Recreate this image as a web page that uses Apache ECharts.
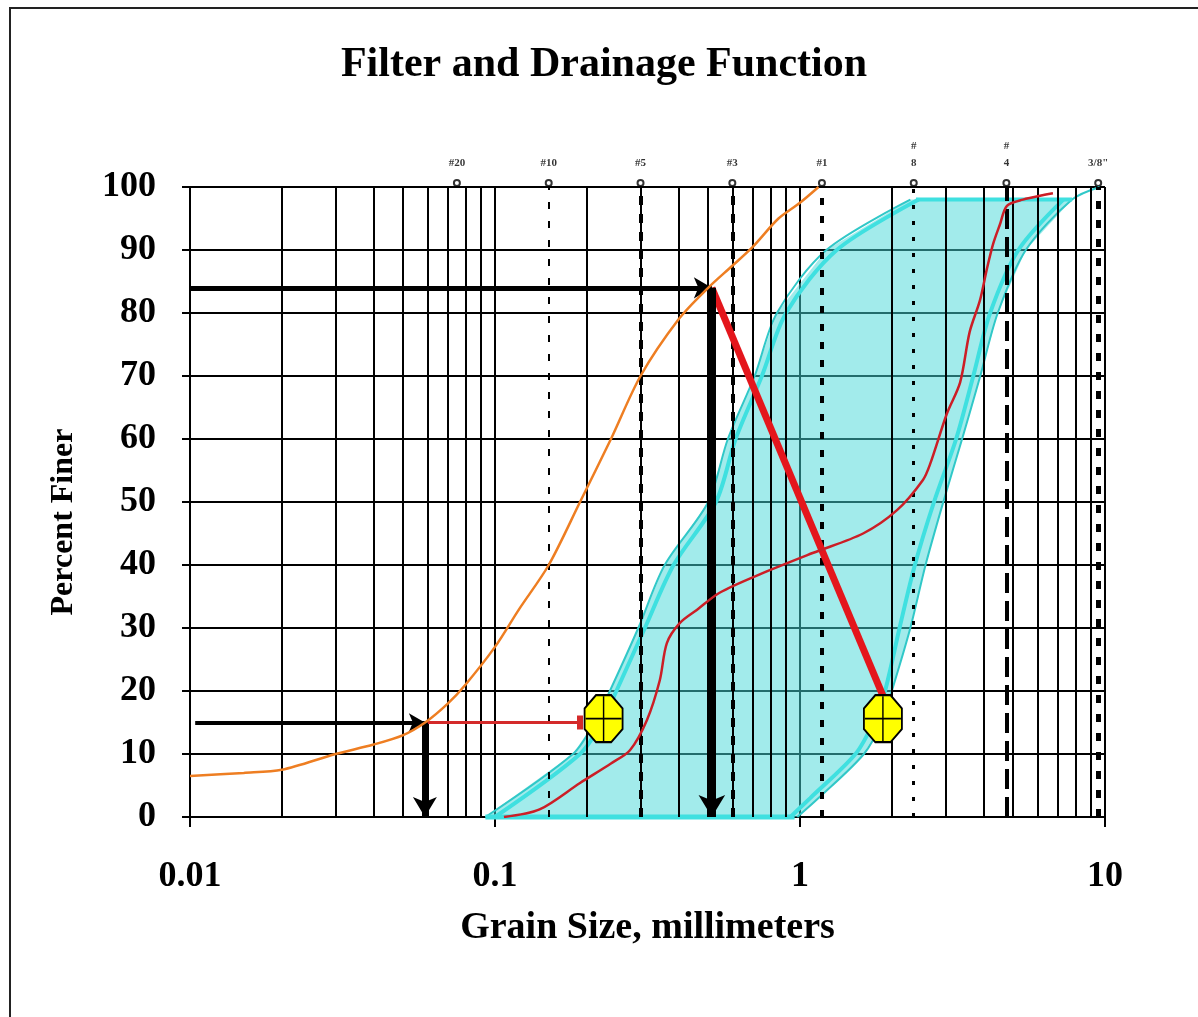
<!DOCTYPE html>
<html>
<head>
<meta charset="utf-8">
<script src="https://cdn.jsdelivr.net/npm/echarts@6/dist/echarts.min.js"></script>
<style>
html,body{margin:0;padding:0;background:#fff;}
#chart{width:1198px;height:1017px;}
</style>
</head>
<body>
<div id="chart"></div>
<script>
// ---------------- DATA ----------------
const xTickLabels = ['0.01', '0.1', '1', '10'];
const yTicks = [0, 10, 20, 30, 40, 50, 60, 70, 80, 90, 100];
const minorGrid = [0.02, 0.03, 0.04, 0.05, 0.06, 0.07, 0.08, 0.09,
                   0.2, 0.3, 0.4, 0.5, 0.6, 0.7, 0.8, 0.9,
                   2, 3, 4, 5, 6, 7, 8, 9];

const sieveSizes = [0.075, 0.15, 0.3, 0.6, 1.18, 2.36, 4.75, 9.5];
const sieveLabels = ['#20', '#10', '#5', '#3', '#1', '#\n8', '#\n4', '3/8"'];

// fine (orange) soil curve
const orangeX = [0.01, 0.015, 0.02, 0.03, 0.04, 0.05, 0.059, 0.07, 0.08, 0.1, 0.12, 0.15, 0.19, 0.24, 0.3, 0.4, 0.5, 0.6, 0.7, 0.85, 1.0, 1.15];
const orangeY = [6.5, 7.0, 7.5, 10, 11.5, 13, 15, 18, 21, 27, 33, 40, 50, 60, 70, 79, 84, 87.5, 90.5, 95, 97.5, 100];

// filter (red) gradation curve
const redX = [0.107, 0.14, 0.19, 0.24, 0.277, 0.315, 0.347, 0.366, 0.404, 0.46, 0.545, 0.754, 1.1, 1.61, 2.08, 2.53, 2.67, 3.03, 3.35, 3.6, 3.89, 4.1, 4.3, 4.52, 4.77, 5.38, 6.4, 6.75];
const redY = [0, 1.2, 5.4, 8.5, 10.6, 15.4, 21.7, 27.6, 30.8, 32.9, 35.6, 38.7, 41.9, 45, 48.7, 53.5, 56, 64, 69, 77, 82, 87, 91, 94, 97, 98, 98.8, 99];

// cyan filter band boundaries
const bandY = [0, 10, 15, 20, 30, 40, 50, 60, 70, 80, 90, 98];
const fineOuterX = [0.093, 0.18, 0.212, 0.238, 0.295, 0.36, 0.5, 0.58, 0.71, 0.84, 1.22, 2.3];
const fineInnerX = [0.1, 0.19, 0.224, 0.25, 0.31, 0.385, 0.53, 0.615, 0.75, 0.9, 1.32, 2.45];
const coarseY = [0, 3, 10, 15, 20, 30, 40, 50, 60, 70, 80, 90, 98];
const coarseInnerX = [0.93, 1.08, 1.52, 1.74, 1.9, 2.12, 2.38, 2.75, 3.25, 3.7, 4.2, 5.2, 7.3];
const coarseOuterX = [0.98, 1.15, 1.62, 1.85, 2.0, 2.3, 2.58, 2.95, 3.4, 3.9, 4.45, 5.5, 7.8];
const coarseTip = [9.6, 100];
const bandTop = [[2.4, 98], [7.8, 98]];
const bandBottom = [[0.093, 0], [0.96, 0]];

// construction arrows / lines
const d85Soil = [0.514, 84];
const d15Soil = [0.0589, 15];
const arrowStartTop = [0.01, 84];
const arrowStartLow = [0.0104, 15];
const redLineEnd = [1.88, 19];
const redHorizEnd = [0.19, 15];
const markerPts = [[0.227, 15.6], [1.87, 15.6]];

// ---------------- STYLES ----------------
const serif = '"Liberation Serif", "DejaVu Serif", serif';
const sieveStyles = [
  {type: [18, 6], width: 2},
  {type: [7, 12], width: 2},
  {type: [9, 9], width: 4},
  {type: [9, 9], width: 4},
  {type: [7, 11], width: 4},
  {type: [4, 12], width: 3},
  {type: [20, 8], width: 4},
  {type: [8, 11], width: 5}
];

const zip = (xs, ys) => xs.map((x, i) => [x, ys[i]]);

const fineOuter = zip(fineOuterX, bandY);
const fineInner = zip(fineInnerX, bandY);
const coarseInner = zip(coarseInnerX, coarseY);
const coarseOuter = zip(coarseOuterX, coarseY);
const polygonPts = fineOuter.concat(coarseOuter.slice().reverse());

const chart = echarts.init(document.getElementById('chart'), null, {renderer: 'canvas'});

const option = {
  animation: false,
  backgroundColor: '#fff',
  graphic: [
    {type: 'rect', shape: {x: 10, y: 8, width: 1200, height: 1020}, style: {fill: 'none', stroke: '#222', lineWidth: 2}, z: -10},
    {type: 'text', x: 604, y: 65, style: {text: 'Filter and Drainage Function', font: 'bold 42px ' + serif, fill: '#000', textAlign: 'center', textVerticalAlign: 'middle'}},
    {type: 'text', x: 64, y: 522, rotation: Math.PI / 2, style: {text: 'Percent Finer', font: 'bold 32px ' + serif, fill: '#000', textAlign: 'center', textVerticalAlign: 'middle'}}
  ],
  grid: {left: 190, right: 93, top: 187, bottom: 200, containLabel: false},
  xAxis: {
    type: 'log', logBase: 10, min: 0.01, max: 10,
    name: 'Grain Size, millimeters', nameLocation: 'middle', nameGap: 92,
    nameTextStyle: {fontFamily: serif, fontWeight: 'bold', fontSize: 38, color: '#000'},
    axisLine: {show: true, lineStyle: {color: '#000', width: 2}},
    axisTick: {show: true, inside: false, length: 10, lineStyle: {color: '#000', width: 2}},
    axisLabel: {
      margin: 42, fontFamily: serif, fontWeight: 'bold', fontSize: 36, color: '#000',
      formatter: function (v) {
        const idx = Math.round(Math.log10(v)) + 2;
        return xTickLabels[idx] !== undefined ? xTickLabels[idx] : '';
      }
    },
    splitLine: {show: true, lineStyle: {color: '#000', width: 2}}
  },
  yAxis: {
    type: 'value', min: 0, max: 100, interval: 10,
    axisLine: {show: true, lineStyle: {color: '#000', width: 2}},
    axisTick: {show: true, inside: false, length: 8, lineStyle: {color: '#000', width: 2}},
    axisLabel: {margin: 34, fontFamily: serif, fontWeight: 'bold', fontSize: 36, color: '#000',
      formatter: v => (yTicks.indexOf(v) >= 0 ? String(v) : '')},
    splitLine: {show: true, lineStyle: {color: '#000', width: 2}}
  },
  series: [
    // minor vertical gridlines
    {
      type: 'line', data: [], z: 1, silent: true,
      markLine: {
        silent: true, symbol: ['none', 'none'], label: {show: false},
        lineStyle: {color: '#000', width: 2, type: 'solid'},
        data: minorGrid.map(v => ({xAxis: v}))
      }
    },
    // sieve lines + labels
    {
      type: 'scatter', z: 2, clip: false, silent: true,
      data: sieveSizes.map(v => [v, 100]),
      symbol: 'emptyCircle', symbolSize: 6, symbolOffset: [0, -4],
      itemStyle: {color: '#000', borderColor: '#000', borderWidth: 1},
      label: {
        show: true, position: 'top', distance: 7,
        fontFamily: serif, fontWeight: 'bold', fontSize: 11, color: '#000', lineHeight: 17,
        formatter: p => sieveLabels[p.dataIndex]
      },
      markLine: {
        silent: true, symbol: ['none', 'none'], label: {show: false},
        data: sieveSizes.map((v, i) => ({xAxis: v, lineStyle: Object.assign({color: '#000'}, sieveStyles[i])}))
      }
    },
    // cyan band fill
    {
      type: 'custom', z: 3, silent: true,
      data: [[0.5, 50]],
      renderItem: function (params, api) {
        const pts = polygonPts.map(p => api.coord(p));
        return {type: 'polygon', shape: {points: pts}, style: {fill: 'rgba(70, 215, 215, 0.5)', stroke: 'none'}};
      }
    },
    // band boundary lines
    {type: 'line', z: 4, data: fineOuter, showSymbol: false, smooth: 0.3, lineStyle: {color: '#30C8C8', width: 2}},
    {type: 'line', z: 4, data: fineInner, showSymbol: false, smooth: 0.3, lineStyle: {color: '#3FE0E0', width: 4}},
    {type: 'line', z: 4, data: coarseInner, showSymbol: false, smooth: 0.3, lineStyle: {color: '#3FE0E0', width: 4}},
    {type: 'line', z: 4, data: coarseOuter.concat([coarseTip]), showSymbol: false, smooth: 0.3, lineStyle: {color: '#30C8C8', width: 2}},
    {type: 'line', z: 4, data: bandTop, showSymbol: false, lineStyle: {color: '#3FE0E0', width: 4}},
    {type: 'line', z: 4, data: bandBottom, showSymbol: false, clip: false, lineStyle: {color: '#3FE0E0', width: 5}},
    // yellow markers
    {
      type: 'scatter', z: 5, silent: true, data: markerPts,
      symbol: 'path://M30,0 L70,0 L100,28 L100,72 L70,100 L30,100 L0,72 L0,28 Z',
      symbolSize: [38, 47],
      itemStyle: {color: '#FFFF00', borderColor: '#000', borderWidth: 2, opacity: 1}
    },
    {
      type: 'scatter', z: 5, silent: true, data: markerPts,
      symbol: 'path://M48,0 L52,0 L52,48 L100,48 L100,52 L52,52 L52,100 L48,100 L48,52 L0,52 L0,48 L48,48 Z',
      symbolSize: [36, 45],
      itemStyle: {color: '#000', opacity: 1}
    },
    // orange soil curve
    {type: 'line', z: 6, data: zip(orangeX, orangeY), showSymbol: false, smooth: 0.3, lineStyle: {color: '#EE7E22', width: 2.5}},
    // red filter curve
    {type: 'line', z: 6, data: zip(redX, redY), showSymbol: false, smooth: 0.3, lineStyle: {color: '#CC1E26', width: 2.5}},
    // construction arrows and red lines
    {
      type: 'line', data: [], z: 7, silent: true,
      markLine: {
        silent: true, label: {show: false}, symbol: ['none', 'none'],
        data: [
          [{coord: d85Soil, symbol: 'none', lineStyle: {color: '#E4161C', width: 7, type: 'solid'}},
           {coord: redLineEnd, symbol: 'none', lineStyle: {color: '#E4161C', width: 7, type: 'solid'}}],
          [{coord: d15Soil, symbol: 'none', lineStyle: {color: '#D42A2A', width: 3, type: 'solid'}},
           {coord: redHorizEnd, symbol: 'rect', symbolSize: [14, 6], lineStyle: {color: '#D42A2A', width: 3, type: 'solid'}}],
          [{coord: arrowStartTop, symbol: 'none', lineStyle: {color: '#000', width: 5, type: 'solid'}},
           {coord: d85Soil, symbol: 'arrow', symbolSize: [16, 18], lineStyle: {color: '#000', width: 5, type: 'solid'}}],
          [{coord: d85Soil, symbol: 'none', lineStyle: {color: '#000', width: 7, type: 'solid'}},
           {coord: [d85Soil[0], 0], symbol: 'arrow', symbolSize: [20, 22], lineStyle: {color: '#000', width: 7, type: 'solid'}}],
          [{coord: arrowStartLow, symbol: 'none', lineStyle: {color: '#000', width: 4, type: 'solid'}},
           {coord: d15Soil, symbol: 'arrow', symbolSize: [14, 16], lineStyle: {color: '#000', width: 4, type: 'solid'}}],
          [{coord: d15Soil, symbol: 'none', lineStyle: {color: '#000', width: 6, type: 'solid'}},
           {coord: [d15Soil[0], 0], symbol: 'arrow', symbolSize: [18, 20], lineStyle: {color: '#000', width: 6, type: 'solid'}}]
        ]
      }
    }
  ]
};
chart.setOption(option);
</script>
</body>
</html>
